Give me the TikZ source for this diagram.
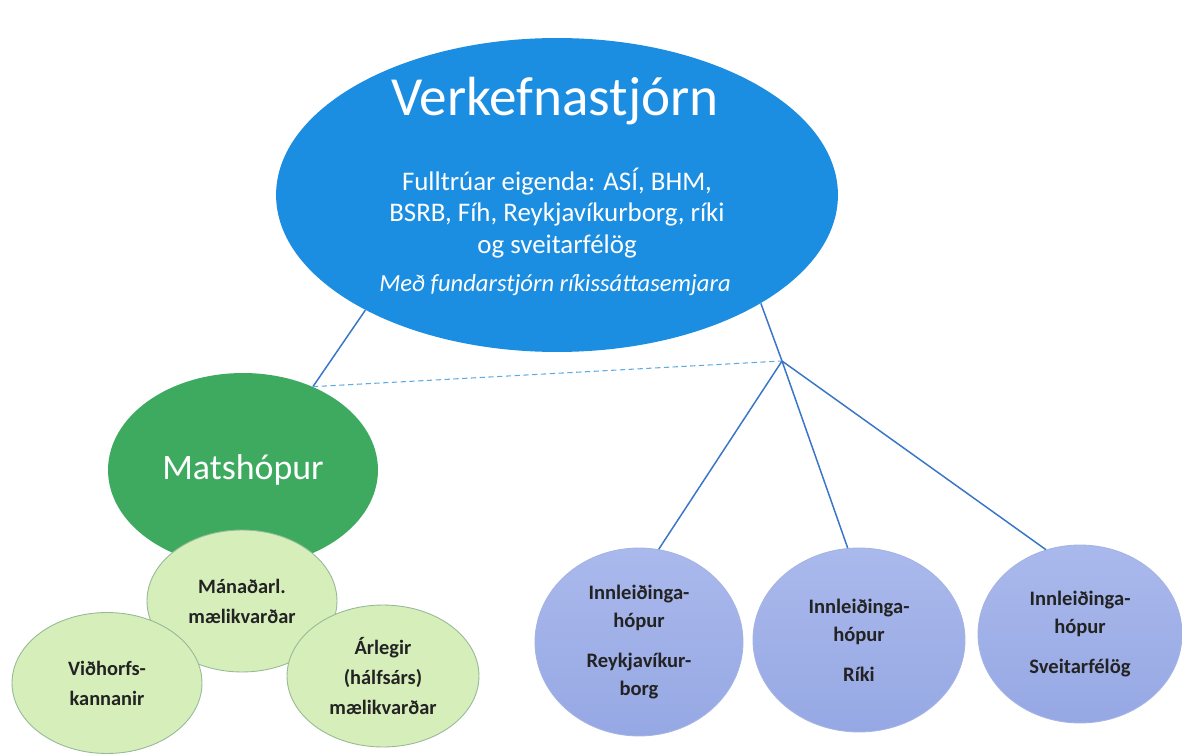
\documentclass[tikz,border=0pt]{standalone}
\usepackage{fontspec}
\setmainfont{Carlito}
\usetikzlibrary{shapes.geometric}

\definecolor{verkblue}{RGB}{28,142,226}
\definecolor{matsgreen}{RGB}{62,170,96}
\definecolor{palegreen}{RGB}{214,238,186}
\definecolor{paleedge}{RGB}{150,185,150}
\definecolor{innltop}{RGB}{170,185,236}
\definecolor{innlbot}{RGB}{150,168,228}
\definecolor{innledge}{RGB}{165,180,228}
\definecolor{linkblue}{RGB}{58,118,200}
\definecolor{dotblue}{RGB}{95,170,225}
\definecolor{textgray}{RGB}{35,35,35}

\tikzset{
  blob/.style = {ellipse, inner sep = 0pt, align = center},
  matsub/.style = {blob, fill = palegreen, draw = paleedge, line width = .5pt,
    text = textgray, font = \bfseries\fontsize{11.6}{17}\selectfont},
  innl/.style = {blob, top color = innltop, bottom color = innlbot, draw = innledge,
    line width = .5pt, text = textgray, font = \bfseries\fontsize{11.7}{16}\selectfont},
  link/.style = {linkblue, line width = .85pt}
}

\begin{document}
\begin{tikzpicture}[x = .02cm, y = -.02cm]
\useasboundingbox (0,0) rectangle (1182,756);

\node[blob, fill = verkblue, minimum width = 11.24cm, minimum height = 6.28cm] (verk) at (557,195) {};
\node[text = white, font = \fontsize{31.4}{36}\selectfont] (verktitle) at (555,101) {Verkefnastjórn};
\node[text = white, align = center, font = \fontsize{15.3}{17.8}\selectfont] (verkbody) at (557,213)
  {Fulltrúar eigenda: ASÍ, BHM,\\ BSRB, Fíh, Reykjavíkurborg, ríki\\ og sveitarfélög};
\node[text = white, font = \itshape\fontsize{14}{17}\selectfont] (verknote) at (555,285)
  {Með fundarstjórn ríkissáttasemjara};

\node[blob, fill = matsgreen, text = white, font = \fontsize{20.4}{24}\selectfont,
  minimum width = 5.4cm, minimum height = 3.88cm] (mats) at (243,470) {Matshópur};
\node[matsub, minimum width = 3.8cm, minimum height = 2.84cm] (manad) at (242,601) {Mánaðarl.\\ mælikvarðar};
\node[matsub, minimum width = 3.8cm, minimum height = 2.82cm] (vidh) at (107,683) {Viðhorfs-\\ kannanir};
\node[matsub, minimum width = 3.84cm, minimum height = 2.84cm] (arleg) at (383,676) {Árlegir\\ (hálfsárs)\\ mælikvarðar};

\node[innl, minimum width = 4.16cm, minimum height = 3.76cm] (reyk) at (639,642)
  {Innleiðinga-\\ hópur\\[6.8pt] Reykjavíkur-\\ borg};
\node[innl, minimum width = 4.24cm, minimum height = 3.68cm] (riki) at (859,640)
  {Innleiðinga-\\ hópur\\[6.8pt] Ríki};
\node[innl, minimum width = 4.08cm, minimum height = 3.56cm] (sveit) at (1080,634)
  {Innleiðinga-\\ hópur\\[6.8pt] Sveitarfélög};

\coordinate (hub) at (782,361);
\draw[link] (verk.211) -- (mats.50);
\draw[link] (verk.332) -- (hub);
\draw[dotblue, line width = .6pt, densely dashed] (mats.50) -- (hub);
\draw[link] (hub) -- (reyk.78);
\draw[link] (hub) -- (riki.97);
\draw[link] (hub) -- (sveit.112);
\end{tikzpicture}
\end{document}
